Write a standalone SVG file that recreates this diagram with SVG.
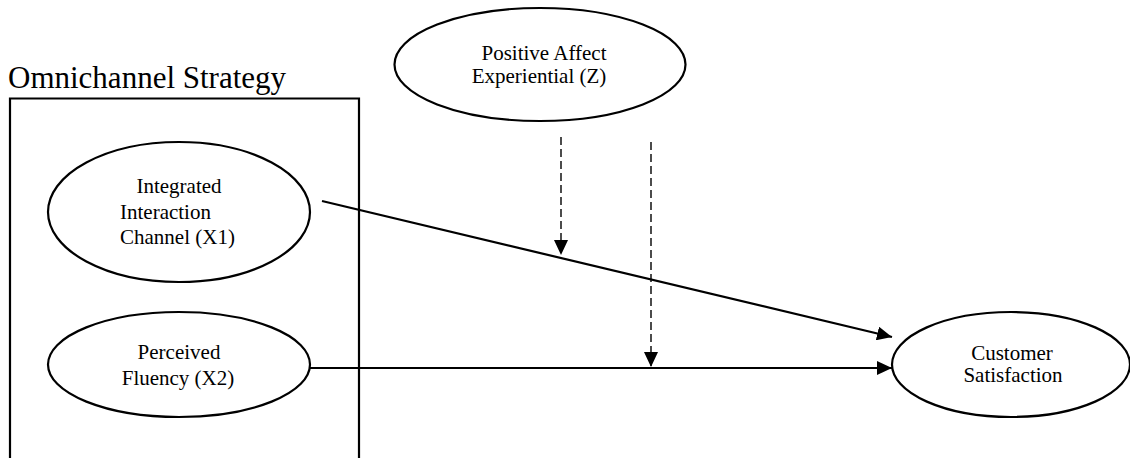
<svg xmlns="http://www.w3.org/2000/svg" width="1130" height="458" viewBox="0 0 1130 458">
  <style>
    .node { fill: #ffffff; stroke: #000000; stroke-width: 2.2; }
    .lbl { font-size: 21px; fill: #000000; }
    .title { font-size: 31px; fill: #000000; }
    .solid { stroke: #000000; stroke-width: 2.2; fill: none; }
    .dash { stroke: #000000; stroke-width: 1.4; fill: none; stroke-dasharray: 8 4; }
  </style>
  <defs>
    <marker id="arrow" markerUnits="userSpaceOnUse" markerWidth="16" markerHeight="14" refX="15" refY="7" orient="auto">
      <path d="M0,0 L15,7 L0,14 z" fill="#000000"/>
    </marker>
  </defs>
  <rect width="1130" height="458" fill="#ffffff"/>

  <g font-family="Liberation Serif, Times New Roman, DejaVu Serif, serif">
  <g id="omnichannel-strategy">
    <text class="title" x="8" y="88">Omnichannel Strategy</text>
    <path class="solid" d="M10,470 L10,98.5 L359,98.5 L359,470"/>
  </g>

  <g id="x1">
    <ellipse class="node" cx="179" cy="212" rx="131" ry="70"/>
    <text class="lbl" x="179" y="193" text-anchor="middle">Integrated</text>
    <text class="lbl" x="120" y="218.5">Interaction</text>
    <text class="lbl" x="120" y="244">Channel (X1)</text>
  </g>

  <g id="x2">
    <ellipse class="node" cx="179" cy="364.5" rx="131" ry="52.5"/>
    <text class="lbl" x="179" y="359" text-anchor="middle">Perceived</text>
    <text class="lbl" x="178" y="384.5" text-anchor="middle">Fluency (X2)</text>
  </g>

  <g id="z">
    <ellipse class="node" cx="540" cy="64.5" rx="145.5" ry="56.5"/>
    <text class="lbl" x="544" y="60" text-anchor="middle">Positive Affect</text>
    <text class="lbl" x="539" y="83" text-anchor="middle">Experiential (Z)</text>
  </g>

  <g id="y">
    <ellipse class="node" cx="1011" cy="364.5" rx="119" ry="52.5"/>
    <text class="lbl" x="1012" y="360" text-anchor="middle">Customer</text>
    <text class="lbl" x="1013" y="382" text-anchor="middle">Satisfaction</text>
  </g>
  </g>

  <g id="connectors">
    <line class="solid" x1="322" y1="201" x2="892" y2="337" marker-end="url(#arrow)"/>
    <line class="solid" x1="310" y1="368" x2="892" y2="368" marker-end="url(#arrow)"/>
    <line class="dash" x1="561" y1="137" x2="561" y2="255" marker-end="url(#arrow)"/>
    <line class="dash" x1="651" y1="142" x2="651" y2="367" marker-end="url(#arrow)"/>
  </g>
</svg>
